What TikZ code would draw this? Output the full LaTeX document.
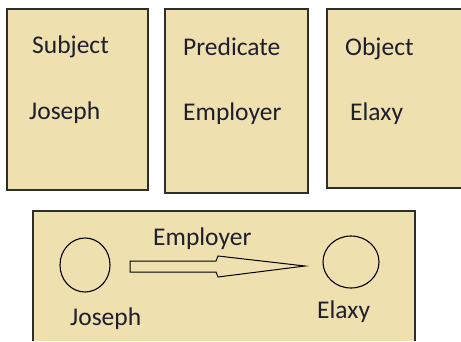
\documentclass[tikz,border=0pt]{standalone}
\usepackage{fontspec}
\setmainfont{Carlito}
\definecolor{boxfill}{HTML}{EFE1AF}
\definecolor{boxline}{HTML}{2E2E2E}
\definecolor{txt}{HTML}{1E1E2C}
\begin{document}
\begin{tikzpicture}[x=1pt,y=-1pt,
  box/.style={draw=boxline,line width=1.6pt,fill=boxfill},
  lbl/.style={anchor=base west,inner sep=0pt,text=txt,font=\fontsize{25.5}{29}\selectfont}]
\useasboundingbox (0,0) rectangle (461,341);
\draw[box] (7,9) rectangle (148,190);
\draw[box] (165,9) rectangle (308,193);
\fill[boxfill] (327,9) rectangle (461,188);
\draw[boxline,line width=1.6pt] (461,9) -- (327,9) -- (327,188) -- (461,188);
\fill[boxfill] (33,211) rectangle (415,341);
\draw[boxline,line width=1.6pt] (33,341) -- (33,211) -- (415,211) -- (415,341);
\node[lbl] (t1) at (32,53) {Subject};
\node[lbl] (t2) at (29,119) {Joseph};
\node[lbl] (t3) at (183,55) {Predicate};
\node[lbl] (t4) at (183,120) {Employer};
\node[lbl] (t5) at (345,55) {Object};
\node[lbl] (t6) at (350,120) {Elaxy};
\coordinate (c1) at (85,265);
\coordinate (c2) at (351,262);
\draw[black,line width=1.1pt] (c1) ellipse [x radius=25, y radius=27];
\draw[black,line width=1.1pt] (c2) ellipse [x radius=28, y radius=26];
\coordinate (a0) at (130,261);
\coordinate (a1) at (216,261);
\coordinate (a2) at (218,256);
\coordinate (tip) at (305,266);
\coordinate (a3) at (218,277);
\coordinate (a4) at (216,272);
\coordinate (a5) at (130,272);
\draw[black,line width=1pt,fill=boxfill,line join=miter] (a0) -- (a1) -- (a2) -- (tip) -- (a3) -- (a4) -- (a5) -- cycle;
\node[lbl] (t7) at (153,245) {Employer};
\node[lbl] (t8) at (70,325) {Joseph};
\node[lbl] (t9) at (317,318) {Elaxy};
\end{tikzpicture}
\end{document}
